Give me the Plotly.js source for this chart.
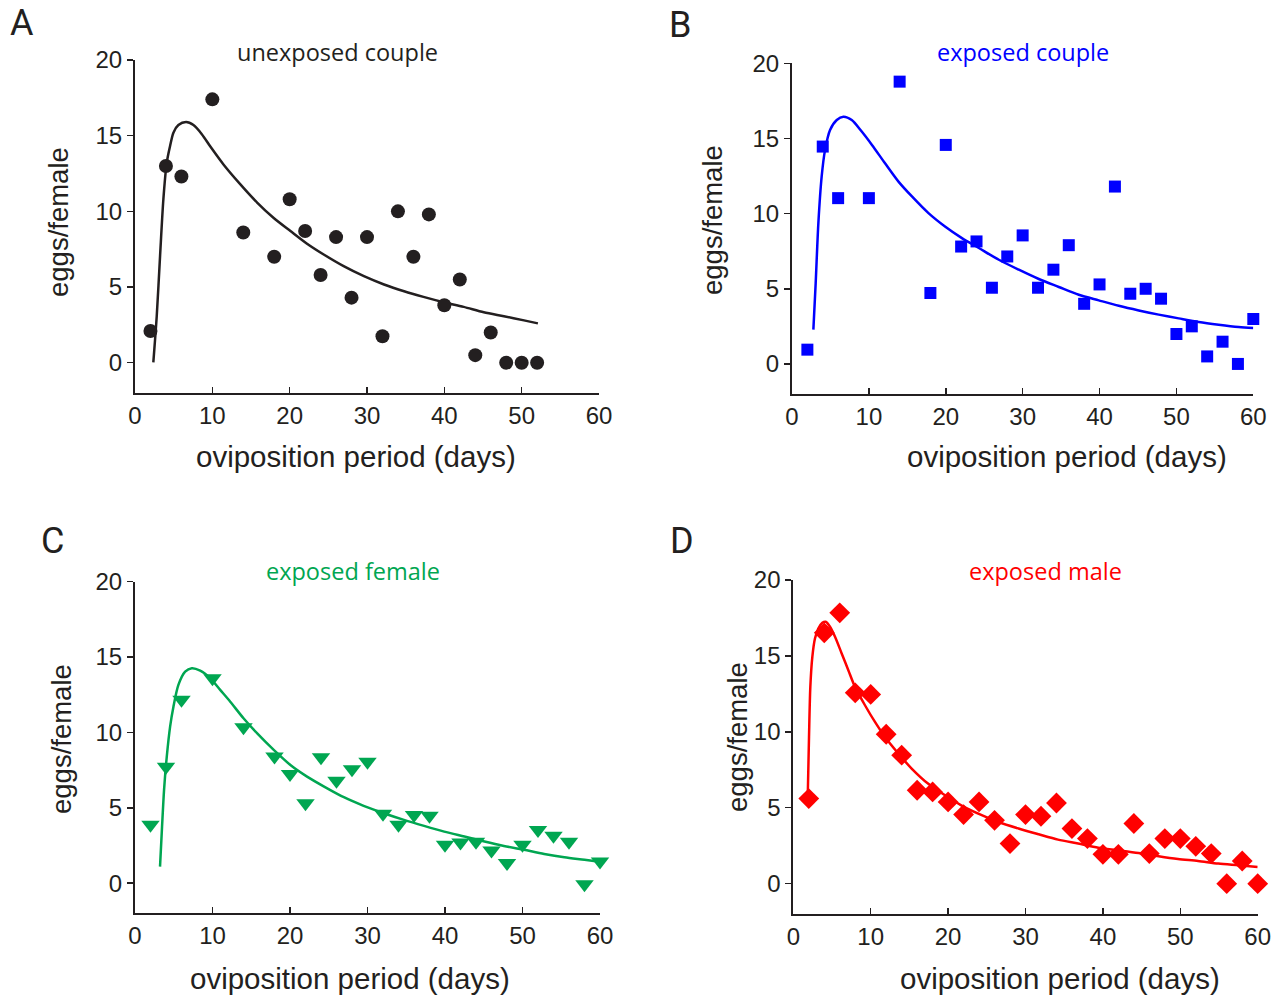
<!DOCTYPE html>
<html>
<head>
<meta charset="utf-8">
<script src="https://cdn.plot.ly/plotly-3.0.1.min.js"></script>
<style>html,body{margin:0;padding:0;background:#fff;}#chart{width:1282px;height:997px;}</style>
</head>
<body>
<div id="chart"></div>
<script>
// ---- Panel A: unexposed couple ----
const daysA = [2,4,6,10,14,18,20,22,24,26,28,30,32,34,36,38,40,42,44,46,48,50,52];
const eggsA = [2.1,13.0,12.3,17.4,8.6,7.0,10.8,8.7,5.8,8.3,4.3,8.3,1.75,10.0,7.0,9.8,3.8,5.5,0.5,2.0,0,0,0];
const fitDaysA = [2.37,2.81,3.24,3.67,4.1,4.53,4.97,5.61,6.61,7.56,8.64,9.72,11.44,13.6,15.76,17.9,20.1,22.2,24.4,26.98,29.6,32.2,34.8,37.3,39.9,42.5,45.1,47.7,50.3,52.1];
const fitEggsA = [0.02,3.07,7.04,10.8,13.2,14.3,15.2,15.7,15.9,15.7,15.1,14.3,13.1,11.8,10.6,9.58,8.7,7.88,7.15,6.38,5.72,5.17,4.72,4.35,4.0,3.69,3.33,3.07,2.8,2.6];

// ---- Panel B: exposed couple ----
const daysB = [2,4,6,10,14,18,20,22,24,26,28,30,32,34,36,38,40,42,44,46,48,50,52,54,56,58,60];
const eggsB = [0.95,14.46,11.03,11.03,18.78,4.72,14.57,7.81,8.15,5.07,7.15,8.55,5.07,6.27,7.9,4.0,5.29,11.8,4.67,5.0,4.34,1.99,2.5,0.5,1.48,0,2.99];
const fitDaysB = [2.78,3.08,3.43,3.86,4.3,4.95,5.82,6.68,7.77,9.07,10.4,12.1,13.85,15.6,17.75,19.9,22.1,24.3,26.9,29.5,32.1,34.7,37.3,39.9,42.5,45.1,47.7,50.3,52.9,55.5,58.1,60.0];
const fitEggsB = [2.28,5.38,9.37,12.47,14.24,15.57,16.23,16.45,16.23,15.46,14.57,13.35,12.13,11.14,10.03,9.14,8.37,7.71,6.93,6.27,5.65,5.12,4.6,4.23,3.87,3.56,3.28,3.03,2.79,2.61,2.46,2.39];

// ---- Panel C: exposed female ----
const daysC = [2,4,6,10,14,18,20,22,24,26,28,30,32,34,36,38,40,42,44,46,48,50,52,54,56,58,60];
const eggsC = [3.87,7.73,12.16,13.6,10.34,8.4,7.25,5.3,8.35,6.8,7.56,8.06,4.6,3.87,4.53,4.47,2.54,2.7,2.75,2.16,1.33,2.54,3.53,3.14,2.75,-0.07,1.43];
const fitDaysC = [3.23,3.49,3.75,4.1,4.53,4.96,5.6,6.47,7.33,8.41,9.7,10.99,12.29,14.0,15.74,17.9,20.05,22.2,24.4,26.95,29.5,32.1,34.7,37.3,39.9,42.5,45.1,47.6,50.2,52.8,55.4,58.0,59.7];
const fitEggsC = [1.1,3.75,6.19,8.4,10.39,11.71,13.15,14.03,14.26,14.1,13.6,12.82,12.04,10.94,9.95,8.84,7.84,7.07,6.41,5.7,5.13,4.64,4.2,3.8,3.42,3.09,2.76,2.47,2.21,1.94,1.72,1.55,1.43];

// ---- Panel D: exposed male ----
const daysD = [2,4,6,8,10,12,14,16,18,20,22,24,26,28,30,32,34,36,38,40,42,44,46,48,50,52,54,56,58,60];
const eggsD = [5.6,16.52,17.84,12.57,12.46,9.84,8.46,6.15,6.04,5.38,4.55,5.38,4.17,2.64,4.55,4.44,5.31,3.63,2.97,1.93,1.93,3.96,1.98,2.97,2.97,2.46,1.98,0,1.49,0];
const fitDaysD = [1.86,2.03,2.2,2.46,2.8,3.23,3.75,4.18,4.74,5.39,6.25,7.11,7.97,9.26,10.55,11.85,13.57,15.29,17.4,19.6,21.7,23.9,26.5,29.1,31.7,34.2,36.8,39.4,42.0,44.6,47.2,49.7,52.3,54.9,57.5,60.0];
const fitEggsD = [5.6,9.66,12.96,14.94,16.15,16.8,17.18,17.25,16.92,16.26,15.16,14.06,12.96,11.75,10.65,9.66,8.57,7.58,6.59,5.82,5.16,4.61,4.06,3.63,3.25,2.9,2.64,2.37,2.2,2.02,1.8,1.62,1.49,1.32,1.21,1.1];

const panelTitles = ['unexposed couple','exposed couple','exposed female','exposed male'];
const panelLetters = ['A','B','C','D'];
const xTickVals = [0,10,20,30,40,50,60];
const yTickVals = [0,5,10,15,20];
const xTitle = 'oviposition period (days)';
const yTitle = 'eggs/female';

const INK = '#231f20';
const W = 1282, H = 997;
const px = v => v / W;
const py = v => 1 - v / H;

const panels = [
  {x: daysA, y: eggsA, fx: fitDaysA, fy: fitEggsA, color: INK, symbol: 'circle', size: 14,
   dom: [135, 599, 60, 393], title: [338, 52], letter: [22, 23], xt: [356, 456], yt: [58, 222]},
  {x: daysB, y: eggsB, fx: fitDaysB, fy: fitEggsB, color: '#0000ff', symbol: 'square', size: 12,
   dom: [792, 1253.3, 63.3, 394], title: [1023, 52], letter: [680, 25], xt: [1067, 457], yt: [713, 220]},
  {x: daysC, y: eggsC, fx: fitDaysC, fy: fitEggsC, color: '#00a651', symbol: 'triangle-down', size: 16,
   dom: [135, 600, 581.7, 913.3], title: [353, 571], letter: [52, 541], xt: [350, 978], yt: [61, 739]},
  {x: daysD, y: eggsD, fx: fitDaysD, fy: fitEggsD, color: '#ff0000', symbol: 'diamond', size: 16,
   dom: [793.3, 1257.7, 580, 914], title: [1045, 571], letter: [682, 541], xt: [1060, 978], yt: [737, 737]}
];

const traces = [];
const layout = {
  width: W, height: H,
  margin: {l: 0, r: 0, t: 0, b: 0},
  paper_bgcolor: '#ffffff', plot_bgcolor: 'rgba(0,0,0,0)',
  showlegend: false,
  font: {family: 'Liberation Sans, Arial, sans-serif', color: INK},
  annotations: []
};

panels.forEach((p, i) => {
  const n = i === 0 ? '' : String(i + 1);
  traces.push({
    x: p.fx, y: p.fy, xaxis: 'x' + n, yaxis: 'y' + n,
    mode: 'lines', type: 'scatter', line: {color: p.color, width: 2.5, shape: 'spline', smoothing: 0.8},
    hoverinfo: 'skip', cliponaxis: false
  });
  traces.push({
    x: p.x, y: p.y, xaxis: 'x' + n, yaxis: 'y' + n,
    mode: 'markers', type: 'scatter', cliponaxis: false,
    marker: {color: p.color, symbol: p.symbol, size: p.size, line: {width: 0}}
  });
  layout['xaxis' + n] = {
    domain: [px(p.dom[0]), px(p.dom[1])], range: [0, 60], anchor: 'y' + n,
    tickvals: xTickVals, ticks: 'inside', ticklen: 6, tickwidth: 1.5, tickcolor: INK,
    showline: true, linecolor: INK, linewidth: 2, showgrid: false, zeroline: false,
    tickfont: {family: 'Liberation Sans, Arial, sans-serif', size: 24, color: INK},
    fixedrange: true
  };
  layout['yaxis' + n] = {
    domain: [py(p.dom[3]), py(p.dom[2])], range: [-2, 20], anchor: 'x' + n,
    tickvals: yTickVals, ticks: 'outside', ticklen: 6, tickwidth: 1.5, tickcolor: INK,
    showline: true, linecolor: INK, linewidth: 2, showgrid: false, zeroline: false,
    tickfont: {family: 'Liberation Sans, Arial, sans-serif', size: 24, color: INK},
    fixedrange: true
  };
  layout.annotations.push({
    xref: 'paper', yref: 'paper', x: px(p.title[0]), y: py(p.title[1]),
    xanchor: 'center', yanchor: 'middle', showarrow: false, text: panelTitles[i],
    font: {family: 'Open Sans, Noto Sans, sans-serif', size: 23.5, color: p.color}
  });
  layout.annotations.push({
    xref: 'paper', yref: 'paper', x: px(p.letter[0]), y: py(p.letter[1]),
    xanchor: 'center', yanchor: 'middle', showarrow: false, text: panelLetters[i],
    font: {family: 'Roboto, Liberation Sans, sans-serif', size: 36, color: INK}
  });
  layout.annotations.push({
    xref: 'paper', yref: 'paper', x: px(p.xt[0]), y: py(p.xt[1]),
    xanchor: 'center', yanchor: 'middle', showarrow: false, text: xTitle,
    font: {family: 'Liberation Sans, Arial, sans-serif', size: 29.5, color: INK}
  });
  layout.annotations.push({
    xref: 'paper', yref: 'paper', x: px(p.yt[0]), y: py(p.yt[1]),
    xanchor: 'center', yanchor: 'middle', showarrow: false, text: yTitle, textangle: -90,
    font: {family: 'Liberation Sans, Arial, sans-serif', size: 27.5, color: INK}
  });
});

Plotly.newPlot('chart', traces, layout, {staticPlot: true, displayModeBar: false});
</script>
</body>
</html>
